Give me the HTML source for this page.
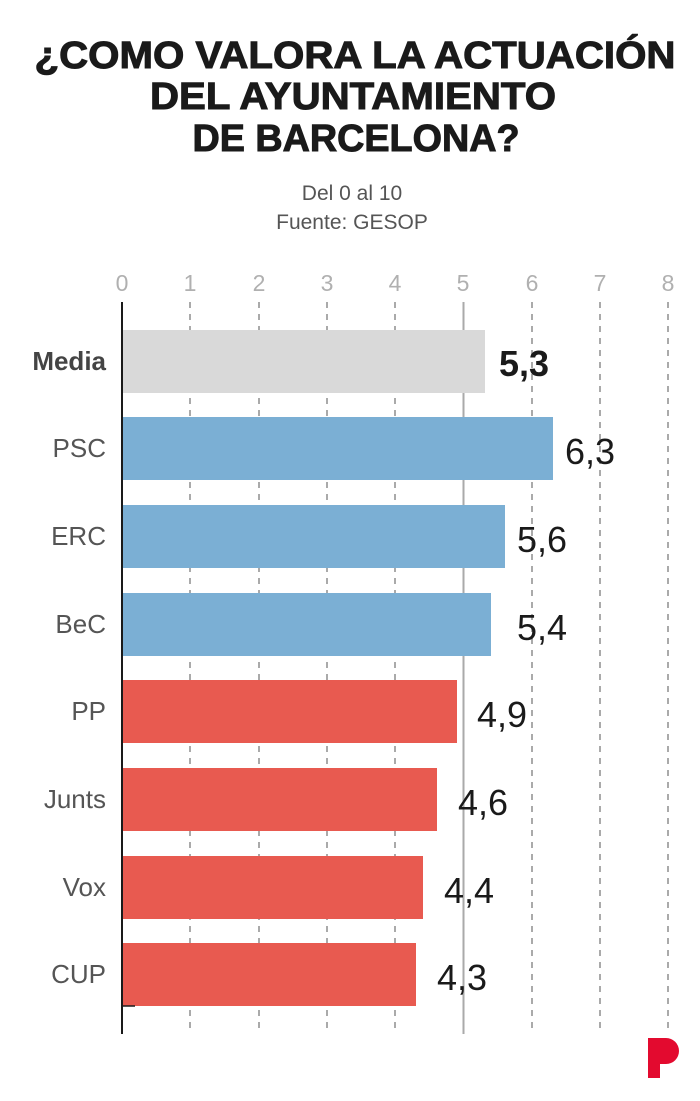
<!DOCTYPE html>
<html><head><meta charset="utf-8"><style>html,body{margin:0;padding:0;background:#fff}</style></head><body>
<svg width="700" height="1096" xmlns="http://www.w3.org/2000/svg" font-family="Liberation Sans, sans-serif">
<rect width="700" height="1096" fill="#fff"/>
<g font-weight="bold" font-size="38" fill="#1a1a1a" stroke="#1a1a1a" stroke-width="1" text-anchor="middle">
<text x="355" y="68" textLength="641" lengthAdjust="spacingAndGlyphs">¿COMO VALORA LA ACTUACIÓN</text>
<text x="353" y="109" textLength="406" lengthAdjust="spacingAndGlyphs">DEL AYUNTAMIENTO</text>
<text x="356" y="151" textLength="327" lengthAdjust="spacingAndGlyphs">DE BARCELONA?</text>
</g>
<g font-size="21" fill="#555" text-anchor="middle">
<text x="352" y="200">Del 0 al 10</text>
<text x="352" y="229">Fuente: GESOP</text>
</g>
<g font-size="23" fill="#b0b0b0" text-anchor="middle">
<text x="122" y="291">0</text><text x="190" y="291">1</text><text x="259" y="291">2</text><text x="327" y="291">3</text><text x="395" y="291">4</text><text x="463" y="291">5</text><text x="532" y="291">6</text><text x="600" y="291">7</text><text x="668" y="291">8</text>
</g>
<g stroke="#aaa" stroke-width="2" stroke-dasharray="6,6">
<line x1="190" y1="302" x2="190" y2="1034"/><line x1="259" y1="302" x2="259" y2="1034"/><line x1="327" y1="302" x2="327" y2="1034"/><line x1="395" y1="302" x2="395" y2="1034"/><line x1="532" y1="302" x2="532" y2="1034"/><line x1="600" y1="302" x2="600" y2="1034"/><line x1="668" y1="302" x2="668" y2="1034"/>
</g>
<line x1="463.5" y1="302" x2="463.5" y2="1034" stroke="#aaa" stroke-width="2"/>
<rect x="122" y="330" width="363" height="63" fill="#d9d9d9"/>
<rect x="122" y="417" width="431" height="63" fill="#7bafd4"/>
<rect x="122" y="505" width="383" height="63" fill="#7bafd4"/>
<rect x="122" y="593" width="369" height="63" fill="#7bafd4"/>
<rect x="122" y="680" width="335" height="63" fill="#e85a50"/>
<rect x="122" y="768" width="315" height="63" fill="#e85a50"/>
<rect x="122" y="856" width="301" height="63" fill="#e85a50"/>
<rect x="122" y="943" width="294" height="63" fill="#e85a50"/>
<line x1="122" y1="302" x2="122" y2="1034" stroke="#1a1a1a" stroke-width="2"/>
<line x1="122" y1="1006" x2="135" y2="1006" stroke="#1a1a1a" stroke-width="1.5"/>
<g font-size="26" fill="#555" text-anchor="end">
<text x="106" y="370" font-weight="bold" fill="#444">Media</text>
<text x="106" y="457">PSC</text><text x="106" y="545">ERC</text><text x="106" y="633">BeC</text><text x="106" y="720">PP</text><text x="106" y="808">Junts</text><text x="106" y="896">Vox</text><text x="106" y="983">CUP</text>
</g>
<g font-size="36" fill="#1a1a1a">
<text x="499" y="376" font-weight="bold">5,3</text>
<text x="565" y="464">6,3</text><text x="517" y="552">5,6</text><text x="517" y="640">5,4</text><text x="477" y="727">4,9</text><text x="458" y="815">4,6</text><text x="444" y="903">4,4</text><text x="437" y="990">4,3</text>
</g>
<path d="M648 1038 H666 A13 13 0 0 1 666 1064 H660 V1078 H648 Z" fill="#e30a2f"/>
</svg>
</body></html>
